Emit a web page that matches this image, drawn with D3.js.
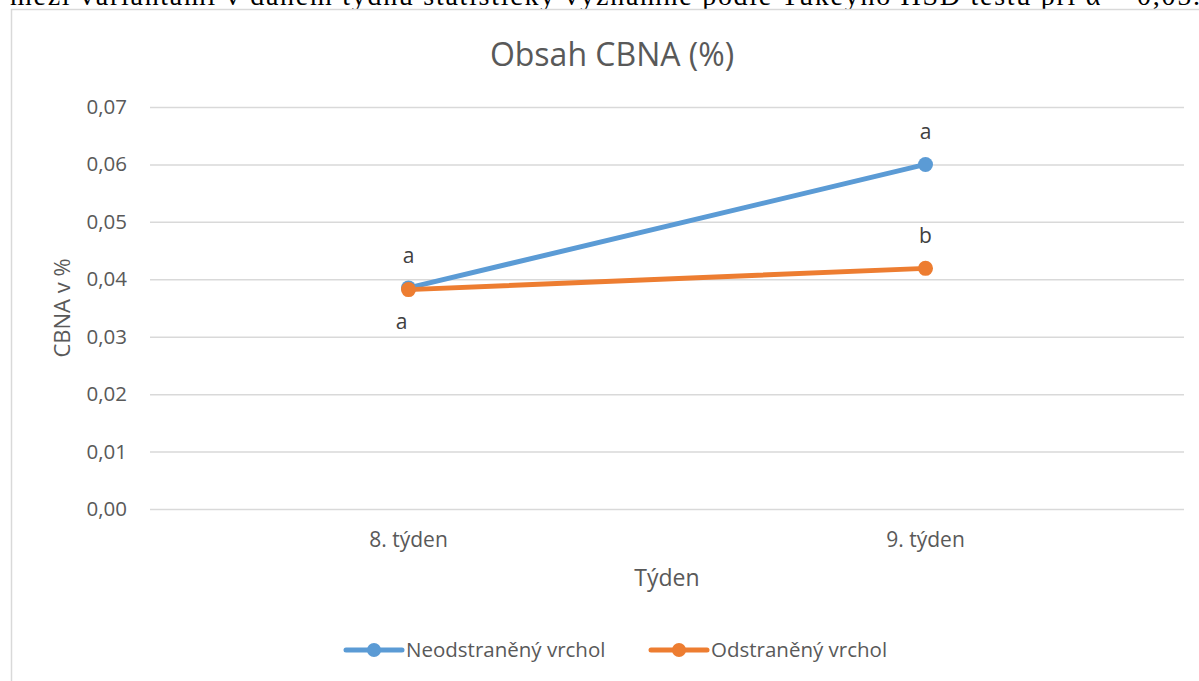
<!DOCTYPE html>
<html>
<head>
<meta charset="utf-8">
<script src="https://cdn.jsdelivr.net/npm/d3@7"></script>
<style>
  body { margin: 0; background: #fff; }
  svg { display: block; }
</style>
</head>
<body>
<div class="chart"></div>
<script>
// chart data
var weeks = ["8. týden", "9. týden"];
var seriesNames = ["Neodstraněný vrchol", "Odstraněný vrchol"];
var neodstraneny = [0.0385, 0.0600];
var odstraneny = [0.0382, 0.0419];
var letters = [["a", "a"], ["a", "b"]];
var yTicks = [0, 0.01, 0.02, 0.03, 0.04, 0.05, 0.06, 0.07];
var colors = ["#5B9BD5", "#ED7D31"];

var svgWidth = 1199;
var svgHeight = 681;

var margin = { top: 107, right: 15, bottom: 172, left: 150 };
var width = svgWidth - margin.left - margin.right;
var height = svgHeight - margin.top - margin.bottom;

var font = "'Open Sans', sans-serif";

var svg = d3.select(".chart")
  .append("svg")
  .attr("width", svgWidth)
  .attr("height", svgHeight);

// document text cut at the top of the picture
svg.append("text")
  .attr("x", 10)
  .attr("y", 5)
  .attr("textLength", 1190)
  .attr("lengthAdjust", "spacing")
  .style("font-family", "'Liberation Serif', 'Times New Roman', serif")
  .style("font-size", "28px")
  .style("fill", "#000")
  .text("mezi variantami v daném týdnu statisticky významné podle Tukeyho HSD testu při α = 0,05.");

// chart frame
svg.append("rect")
  .attr("x", 11.5)
  .attr("y", 9.5)
  .attr("width", 1200)
  .attr("height", 700)
  .attr("fill", "#fff")
  .attr("stroke", "#D9D9D9")
  .attr("stroke-width", 1.5);

var chartGroup = svg.append("g")
  .attr("transform", `translate(${margin.left}, ${margin.top})`);

var xScale = d3.scaleBand()
  .domain(weeks)
  .range([0, width]);

var yScale = d3.scaleLinear()
  .domain([0, 0.07])
  .range([height, 0]);

// gridlines and y labels
var leftAxis = d3.axisLeft(yScale)
  .tickValues(yTicks)
  .tickSize(-width)
  .tickPadding(23)
  .tickFormat(d => d3.format(".2f")(d).replace(".", ","));

var yAxis = chartGroup.append("g")
  .call(leftAxis);
yAxis.select(".domain").remove();
yAxis.selectAll("line")
  .attr("stroke", "#D9D9D9")
  .attr("stroke-width", 1.5);
yAxis.selectAll("text")
  .style("font-family", font)
  .style("font-size", "20.5px")
  .style("fill", "#595959");

// x labels
var bottomAxis = d3.axisBottom(xScale).tickSize(0).tickPadding(23);
var xAxis = chartGroup.append("g")
  .attr("transform", `translate(0, ${height})`)
  .call(bottomAxis);
xAxis.select(".domain").remove();
xAxis.selectAll("text")
  .style("font-family", font)
  .style("font-size", "21px")
  .style("fill", "#595959");

var xPos = d => xScale(d) + xScale.bandwidth() / 2;

// lines and markers
var allSeries = [neodstraneny, odstraneny];
var line = d3.line()
  .x((d, i) => xPos(weeks[i]))
  .y(d => yScale(d));

allSeries.forEach((vals, s) => {
  chartGroup.append("path")
    .datum(vals)
    .attr("d", line)
    .attr("fill", "none")
    .attr("stroke", colors[s])
    .attr("stroke-width", 5)
    .attr("stroke-linecap", "round");
});
allSeries.forEach((vals, s) => {
  chartGroup.selectAll(".pt" + s)
    .data(vals)
    .enter()
    .append("circle")
    .attr("cx", (d, i) => xPos(weeks[i]))
    .attr("cy", d => yScale(d))
    .attr("r", 7.5)
    .attr("fill", colors[s]);
});

// significance letters
var letterStyle = sel => sel
  .style("font-family", font)
  .style("font-size", "21px")
  .style("fill", "#404040")
  .attr("text-anchor", "middle");

chartGroup.append("text").call(letterStyle)
  .attr("x", xPos(weeks[0]))
  .attr("y", yScale(neodstraneny[0]) - 25)
  .text(letters[0][0]);
chartGroup.append("text").call(letterStyle)
  .attr("x", xPos(weeks[0]) - 7)
  .attr("y", yScale(odstraneny[0]) + 39)
  .text(letters[0][1]);
chartGroup.append("text").call(letterStyle)
  .attr("x", xPos(weeks[1]))
  .attr("y", yScale(neodstraneny[1]) - 25)
  .text(letters[1][0]);
chartGroup.append("text").call(letterStyle)
  .attr("x", xPos(weeks[1]))
  .attr("y", yScale(odstraneny[1]) - 25)
  .text(letters[1][1]);

// title
svg.append("text")
  .attr("x", 612)
  .attr("y", 66)
  .attr("text-anchor", "middle")
  .style("font-family", font)
  .style("font-size", "32px")
  .style("fill", "#595959")
  .text("Obsah CBNA (%)");

// axis titles
svg.append("text")
  .attr("x", margin.left + width / 2)
  .attr("y", 586)
  .attr("text-anchor", "middle")
  .style("font-family", font)
  .style("font-size", "23px")
  .style("fill", "#595959")
  .text("Týden");

svg.append("text")
  .attr("transform", "translate(70, 308) rotate(-90)")
  .attr("text-anchor", "middle")
  .style("font-family", font)
  .style("font-size", "22px")
  .style("fill", "#595959")
  .text("CBNA v %");

// legend
var legendX = [346, 651];
seriesNames.forEach((name, s) => {
  var g = svg.append("g").attr("transform", `translate(${legendX[s]}, 650)`);
  g.append("line")
    .attr("x1", 0).attr("x2", 56)
    .attr("stroke", colors[s])
    .attr("stroke-width", 5)
    .attr("stroke-linecap", "round");
  g.append("circle")
    .attr("cx", 28)
    .attr("r", 7)
    .attr("fill", colors[s]);
  g.append("text")
    .attr("x", 60)
    .attr("y", 7)
    .style("font-family", font)
    .style("font-size", "20.5px")
    .style("fill", "#595959")
    .text(name);
});
</script>
</body>
</html>
